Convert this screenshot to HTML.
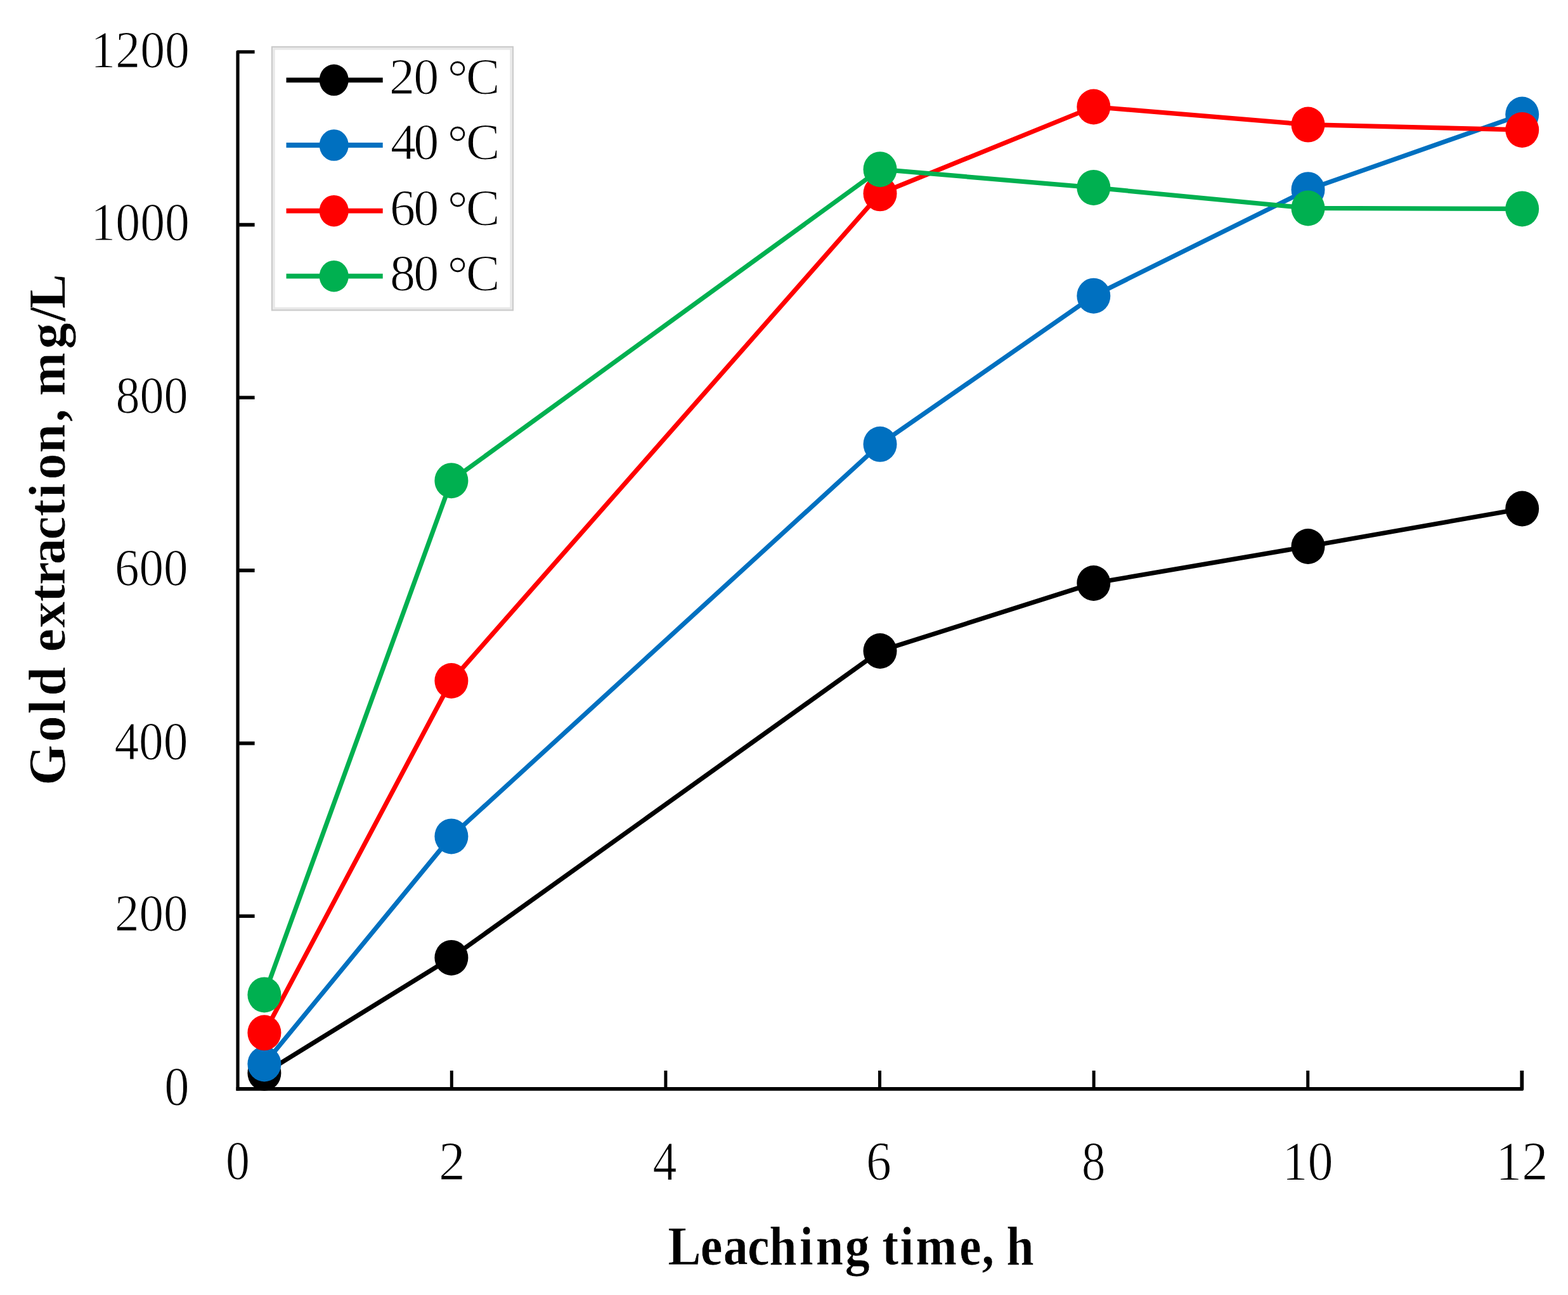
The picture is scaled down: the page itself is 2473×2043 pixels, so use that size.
<!DOCTYPE html><html><head><meta charset="utf-8"><title>Gold extraction vs leaching time</title>
<style>html,body{margin:0;padding:0;background:#fff;width:2473px;height:2043px;overflow:hidden}svg{display:block}text{font-family:"Liberation Serif","Times New Roman",serif;fill:#000;stroke:#fff;stroke-width:1.1px}text[font-weight=bold]{stroke-width:0.6px}</style></head><body>
<svg width="2473" height="2043" viewBox="0 0 2473 2043">
<rect width="2473" height="2043" fill="#fff"/>
<g stroke="#000" fill="none" stroke-linejoin="round">
<path d="M401.6 81.9 H375 V1720.5" stroke-width="5.2"/>
<path d="M372.5 1717.9 H2400.3 V1689" stroke-width="5.8"/>
<path d="M375 1445.2 H401.6 M375 1172.6 H401.6 M375 899.9 H401.6 M375 627.3 H401.6 M375 354.6 H401.6" stroke-width="5.6"/>
<path d="M712.3 1717.9 V1689 M1049.9 1717.9 V1689 M1387.5 1717.9 V1689 M1725.1 1717.9 V1689 M2062.7 1717.9 V1689" stroke-width="5"/>
</g>
<text transform="matrix(0.9494 0 0 1.0055 143.35 105.69)" font-size="82">1200</text>
<text transform="matrix(0.9494 0 0 1.0309 143.35 379.47)" font-size="82">1000</text>
<text transform="matrix(0.9282 0 0 1.0036 182.42 650.90)" font-size="82">800</text>
<text transform="matrix(0.9397 0 0 1.0055 180.94 923.29)" font-size="82">600</text>
<text transform="matrix(0.9441 0 0 1.0436 180.41 1197.66)" font-size="82">400</text>
<text transform="matrix(0.9397 0 0 1.0109 180.94 1468.29)" font-size="82">200</text>
<text transform="matrix(0.9571 0 0 1.0473 259.23 1743.05)" font-size="82">0</text>
<text transform="matrix(0.9257 0 0 1.0455 356.02 1860.05)" font-size="82">0</text>
<text transform="matrix(1.0188 0 0 1.0667 691.92 1860.90)" font-size="82">2</text>
<text transform="matrix(0.9263 0 0 1.0611 1029.55 1860.90)" font-size="82">4</text>
<text transform="matrix(0.9714 0 0 1.0600 1366.11 1861.04)" font-size="82">6</text>
<text transform="matrix(0.9114 0 0 1.0564 1706.07 1860.84)" font-size="82">8</text>
<text transform="matrix(0.9778 0 0 1.0655 2022.46 1861.03)" font-size="82">10</text>
<text transform="matrix(1.0057 0 0 1.0648 2358.96 1861.00)" font-size="82">12</text>
<polyline points="416.9,1693.0 711.9,1510.9 1388.0,1027.0 1724.8,920.0 2063.0,862.0 2400.7,802.5" fill="none" stroke="#000000" stroke-width="7.2" stroke-linejoin="round"/>
<ellipse cx="416.9" cy="1693.0" rx="26.5" ry="28.0" fill="#000000"/>
<ellipse cx="711.9" cy="1510.9" rx="26.5" ry="28.0" fill="#000000"/>
<ellipse cx="1388.0" cy="1027.0" rx="26.5" ry="28.0" fill="#000000"/>
<ellipse cx="1724.8" cy="920.0" rx="26.5" ry="28.0" fill="#000000"/>
<ellipse cx="2063.0" cy="862.0" rx="26.5" ry="28.0" fill="#000000"/>
<ellipse cx="2400.7" cy="802.5" rx="26.5" ry="28.0" fill="#000000"/>
<polyline points="416.9,1678.5 711.9,1319.4 1388.0,700.8 1724.8,466.7 2063.0,299.2 2400.7,180.6" fill="none" stroke="#0070C0" stroke-width="7.2" stroke-linejoin="round"/>
<ellipse cx="416.9" cy="1678.5" rx="26.5" ry="28.0" fill="#0070C0"/>
<ellipse cx="711.9" cy="1319.4" rx="26.5" ry="28.0" fill="#0070C0"/>
<ellipse cx="1388.0" cy="700.8" rx="26.5" ry="28.0" fill="#0070C0"/>
<ellipse cx="1724.8" cy="466.7" rx="26.5" ry="28.0" fill="#0070C0"/>
<ellipse cx="2063.0" cy="299.2" rx="26.5" ry="28.0" fill="#0070C0"/>
<ellipse cx="2400.7" cy="180.6" rx="26.5" ry="28.0" fill="#0070C0"/>
<polyline points="416.9,1629.3 711.9,1074.0 1388.0,305.3 1724.8,168.5 2063.0,196.6 2400.7,204.9" fill="none" stroke="#FF0000" stroke-width="7.2" stroke-linejoin="round"/>
<ellipse cx="416.9" cy="1629.3" rx="26.5" ry="28.0" fill="#FF0000"/>
<ellipse cx="711.9" cy="1074.0" rx="26.5" ry="28.0" fill="#FF0000"/>
<ellipse cx="1388.0" cy="305.3" rx="26.5" ry="28.0" fill="#FF0000"/>
<ellipse cx="1724.8" cy="168.5" rx="26.5" ry="28.0" fill="#FF0000"/>
<ellipse cx="2063.0" cy="196.6" rx="26.5" ry="28.0" fill="#FF0000"/>
<ellipse cx="2400.7" cy="204.9" rx="26.5" ry="28.0" fill="#FF0000"/>
<polyline points="416.9,1569.4 711.9,758.2 1388.0,267.2 1724.8,295.9 2063.0,328.4 2400.7,329.4" fill="none" stroke="#00B050" stroke-width="7.2" stroke-linejoin="round"/>
<ellipse cx="416.9" cy="1569.4" rx="26.5" ry="28.0" fill="#00B050"/>
<ellipse cx="711.9" cy="758.2" rx="26.5" ry="28.0" fill="#00B050"/>
<ellipse cx="1388.0" cy="267.2" rx="26.5" ry="28.0" fill="#00B050"/>
<ellipse cx="1724.8" cy="295.9" rx="26.5" ry="28.0" fill="#00B050"/>
<ellipse cx="2063.0" cy="328.4" rx="26.5" ry="28.0" fill="#00B050"/>
<ellipse cx="2400.7" cy="329.4" rx="26.5" ry="28.0" fill="#00B050"/>
<rect x="429" y="74" width="379.9" height="415.3" fill="#fff" stroke="#cbcbcb" stroke-width="2.4"/>
<rect x="431.9" y="76.9" width="374.1" height="409.5" fill="none" stroke="#e8e8e8" stroke-width="3.5"/>
<line x1="451.5" y1="126.3" x2="603.7" y2="126.3" stroke="#000000" stroke-width="7.8"/>
<ellipse cx="526.7" cy="126.3" rx="23" ry="24.8" fill="#000000"/>
<text x="614.0 652.2 691.3 705.8 735.0" y="148.1 148.1 148.1 149.1 148.1" font-size="80">20 °C</text>
<line x1="451.5" y1="229.0" x2="603.7" y2="229.0" stroke="#0070C0" stroke-width="7.8"/>
<ellipse cx="526.7" cy="229.0" rx="23" ry="24.8" fill="#0070C0"/>
<text x="616.0 652.2 691.3 705.8 735.0" y="250.8 250.8 250.8 251.8 250.8" font-size="80">40 °C</text>
<line x1="451.5" y1="332.7" x2="603.7" y2="332.7" stroke="#FF0000" stroke-width="7.8"/>
<ellipse cx="526.7" cy="332.7" rx="23" ry="24.8" fill="#FF0000"/>
<text x="615.0 652.2 691.3 705.8 735.0" y="354.5 354.5 354.5 355.5 354.5" font-size="80">60 °C</text>
<line x1="451.5" y1="435.7" x2="603.7" y2="435.7" stroke="#00B050" stroke-width="7.8"/>
<ellipse cx="526.7" cy="435.7" rx="23" ry="24.8" fill="#00B050"/>
<text x="615.0 652.2 691.3 705.8 735.0" y="457.5 457.5 457.5 458.5 457.5" font-size="80">80 °C</text>
<text transform="matrix(0.9070 0 0 1 0 0)" x="1161.4 1217.9 1257.8 1300.0 1337.6 1390.3 1418.8 1469.5 1512.5 1533.8 1565.0 1592.4 1668.1 1707.4 1728.9 1749.9" y="1995.2" font-size="86" font-weight="bold">Leaching time, h</text>
<text transform="matrix(0 -1.0060 1 0 102.30 1234.00)" x="-4.9 63.0 106.8 135.3 180.9 204.2 242.4 282.8 309.2 341.4 380.3 416.5 445.9 474.3 516.1 564.8 585.3 605.5 679.4 722.6 742.3" y="0" font-size="82" font-weight="bold">Gold extraction, mg/L</text>
</svg></body></html>
